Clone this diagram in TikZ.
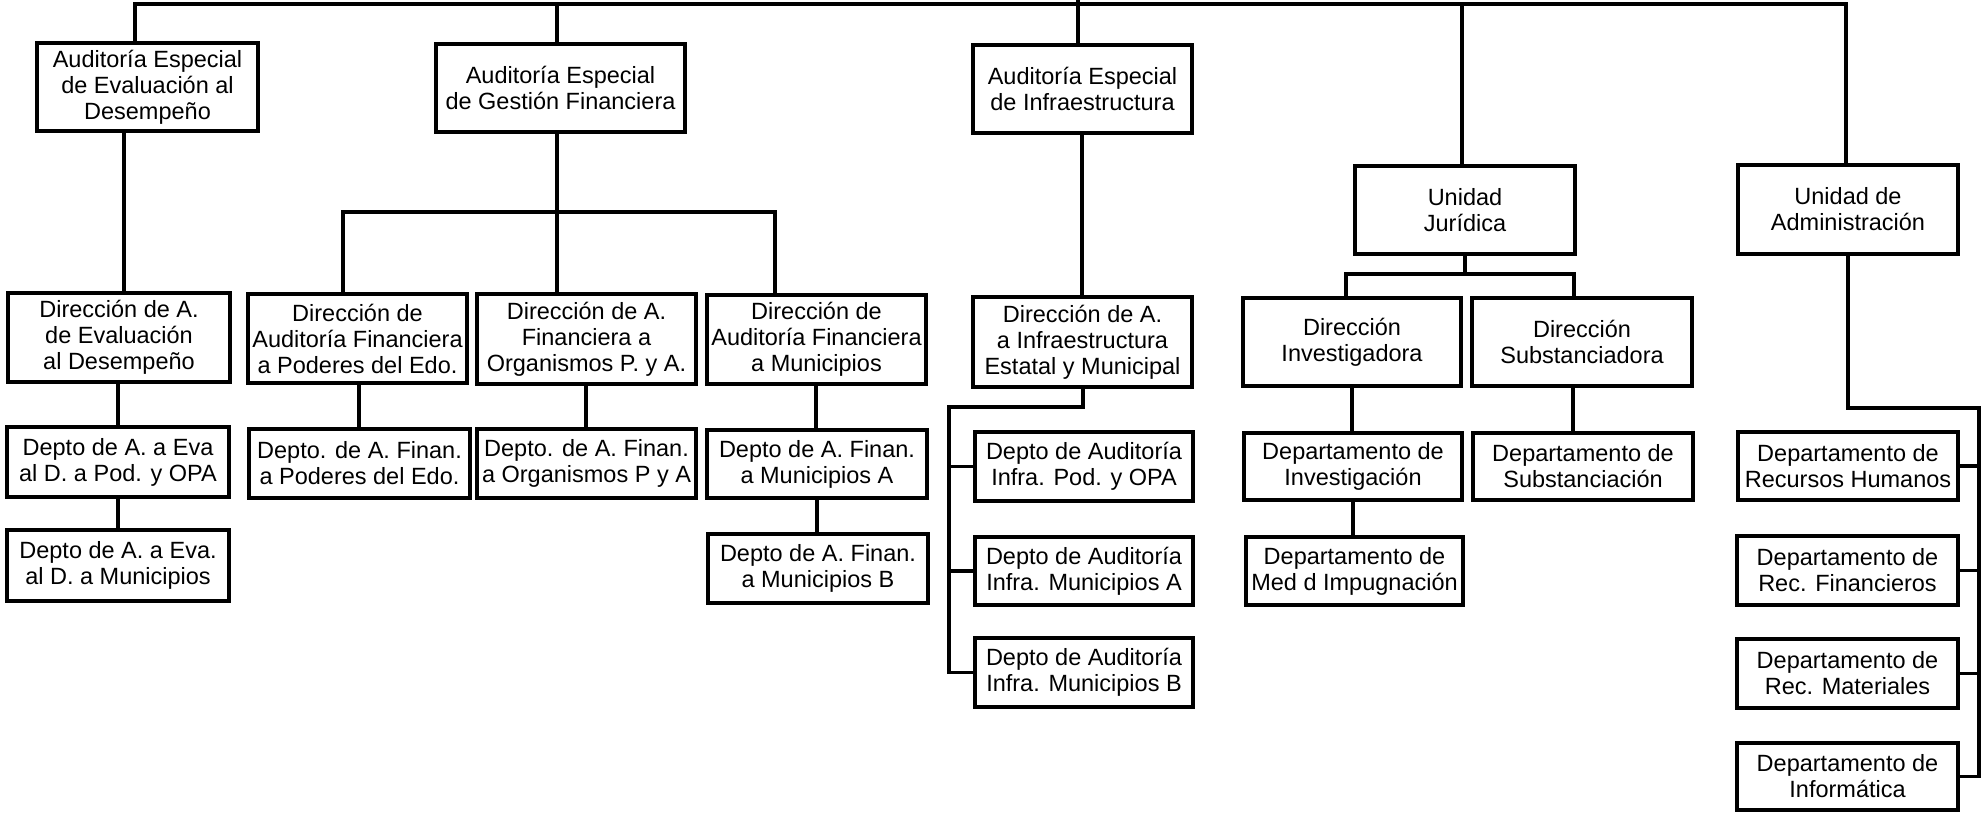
\documentclass[tikz,border=0pt]{standalone}
\usepackage{fontspec}
\setmainfont{Liberation Sans}
\newcommand\orgbox[6]{%
  \node[orgnode, minimum width={#4-#2}, minimum height={#5-#3}] (#1) at ({(#2+#4)/2},{(#3+#5)/2}) {#6};}
\begin{document}
\begin{tikzpicture}[x=1pt,y=-1pt,
  orgnode/.style={draw=black, fill=white, line width=4pt, align=center, inner sep=0pt,
    font=\fontsize{23.5}{26}\selectfont},
  conn/.style={draw=black, line width=3.5pt, line join=miter}]
\useasboundingbox[fill=white] (0,0) rectangle (1984,813);
% top row
\orgbox{aeeval}{37}{43}{258}{131}{Auditoría Especial\\de Evaluación al\\Desempeño}
\orgbox{aegest}{436}{44}{685}{132}{Auditoría Especial\\de Gestión Financiera}
\orgbox{aeinfra}{973}{45}{1192}{133}{Auditoría Especial\\de Infraestructura}
\orgbox{ujur}{1355}{166}{1575}{254}{Unidad\\Jurídica}
\orgbox{uadm}{1738}{165}{1958}{254}{Unidad de\\Administración}
% direcciones
\orgbox{daeval}{8}{293}{230}{382}{Dirección de A.\\de Evaluación\\al Desempeño}
\orgbox{dpod}{248}{294}{467}{383}{Dirección de\\Auditoría Financiera\\a Poderes del Edo.}
\orgbox{dorg}{477}{294}{696}{384}{Dirección de A.\\Financiera a\\Organismos P. y A.}
\orgbox{dmun}{707}{295}{926}{384}{Dirección de\\Auditoría Financiera\\a Municipios}
\orgbox{dinfra}{973}{297}{1192}{387}{Dirección de A.\\a Infraestructura\\Estatal y Municipal}
\orgbox{dinv}{1243}{298}{1461}{386}{Dirección\\Investigadora}
\orgbox{dsub}{1472}{298}{1692}{386}{Dirección\\Substanciadora}
% departamentos
\orgbox{evapod}{7}{427}{229}{497}{Depto de A. a Eva\\al D. a Pod. y OPA}
\orgbox{evamun}{7}{530}{229}{601}{Depto de A. a Eva.\\al D. a Municipios}
\orgbox{finpod}{249}{429}{470}{498}{Depto. de A. Finan.\\a Poderes del Edo.}
\orgbox{finorg}{477}{429}{696}{498}{Depto. de A. Finan.\\a Organismos P y A}
\orgbox{finmuna}{707}{430}{927}{498}{Depto de A. Finan.\\a Municipios A}
\orgbox{finmunb}{708}{534}{928}{603}{Depto de A. Finan.\\a Municipios B}
\orgbox{infrapod}{975}{432}{1193}{501}{Depto de Auditoría\\Infra. Pod. y OPA}
\orgbox{infmuna}{975}{537}{1193}{605}{Depto de Auditoría\\Infra. Municipios A}
\orgbox{infmunb}{975}{638}{1193}{707}{Depto de Auditoría\\Infra. Municipios B}
\orgbox{depinv}{1244}{433}{1462}{500}{Departamento de\\Investigación}
\orgbox{depmed}{1246}{537}{1463}{605}{Departamento de\\Med d Impugnación}
\orgbox{depsub}{1473}{433}{1693}{500}{Departamento de\\Substanciación}
\orgbox{rh}{1738}{432}{1958}{500}{Departamento de\\Recursos Humanos}
\orgbox{recfin}{1737}{536}{1958}{605}{Departamento de\\Rec. Financieros}
\orgbox{recmat}{1737}{639}{1958}{708}{Departamento de\\Rec. Materiales}
\orgbox{inf}{1737}{743}{1958}{810}{Departamento de\\Informática}
% connectors
\coordinate (root) at (1078,0);
\coordinate (bus) at (1078,4);
\draw[conn] (root) -- (bus);
\draw[conn] (aeeval.north -| 135,0) |- (bus) -| (uadm.north -| 1846,0);
\draw[conn] (bus -| 557,0) -- (aegest.north -| 557,0);
\draw[conn] (bus) -- (aeinfra.north -| 1078,0);
\draw[conn] (bus -| 1462,0) -- (ujur.north -| 1462,0);
\draw[conn] (aeeval.south -| 124,0) -- (daeval.north -| 124,0);
\draw[conn] (aegest.south -| 557,0) -- (dorg.north -| 557,0);
\coordinate (gbar) at (557,212);
\draw[conn] (dpod.north -| 343,0) |- (gbar) -| (dmun.north -| 775,0);
\draw[conn] (aeinfra.south -| 1082,0) -- (dinfra.north -| 1082,0);
\coordinate (jbar) at (1465,274);
\draw[conn] (ujur.south -| 1465,0) -- (jbar);
\draw[conn] (dinv.north -| 1346,0) |- (jbar) -| (dsub.north -| 1574,0);
\coordinate (abend) at (1979,408);
\draw[conn] (uadm.south -| 1848,0) |- (abend) |- (inf.east);
\draw[conn] (rh.east) -- (rh.east -| abend);
\draw[conn] (recfin.east) -- (recfin.east -| abend);
\draw[conn] (recmat.east) -- (recmat.east -| abend);
\coordinate (ibend) at (949,407);
\draw[conn] (dinfra.south -| 1083,0) |- (ibend) |- (infmunb.west);
\draw[conn] (infrapod.west) -- (infrapod.west -| ibend);
\draw[conn] (infmuna.west) -- (infmuna.west -| ibend);
\draw[conn] (daeval.south -| 118,0) -- (evapod.north -| 118,0);
\draw[conn] (evapod.south -| 118,0) -- (evamun.north -| 118,0);
\draw[conn] (dpod.south -| 359,0) -- (finpod.north -| 359,0);
\draw[conn] (dorg.south -| 586,0) -- (finorg.north -| 586,0);
\draw[conn] (dmun.south -| 816,0) -- (finmuna.north -| 816,0);
\draw[conn] (finmuna.south -| 817,0) -- (finmunb.north -| 817,0);
\draw[conn] (dinv.south -| 1352,0) -- (depinv.north -| 1352,0);
\draw[conn] (depinv.south -| 1353,0) -- (depmed.north -| 1353,0);
\draw[conn] (dsub.south -| 1573,0) -- (depsub.north -| 1573,0);
\end{tikzpicture}
\end{document}
